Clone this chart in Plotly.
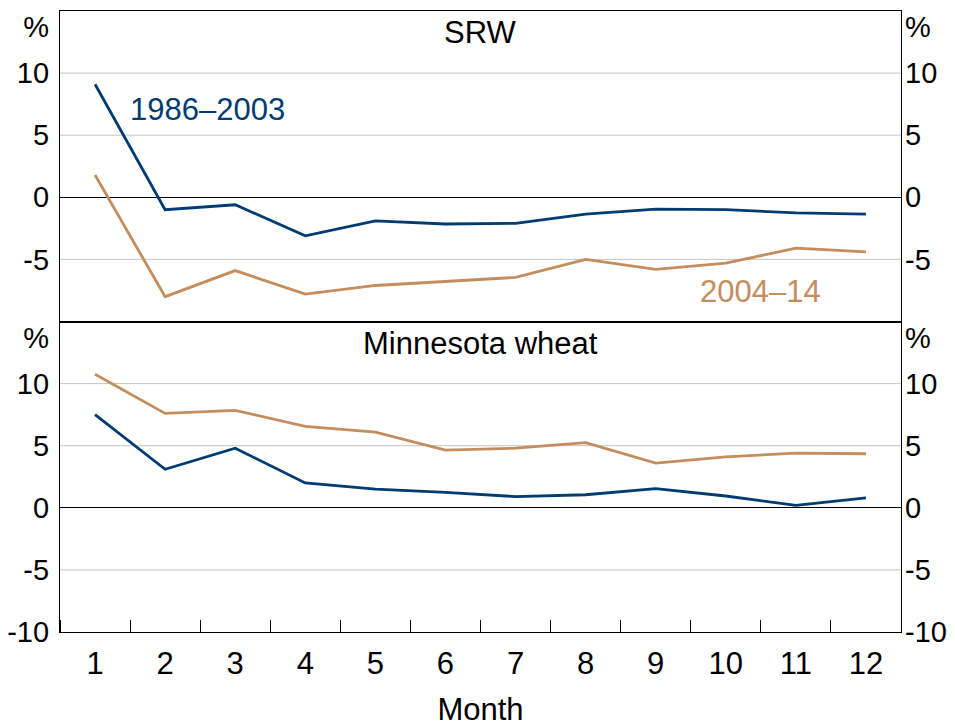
import plotly.graph_objects as go
from plotly.subplots import make_subplots

months = list(range(1, 13))

# SRW
srw_early = [9.1, -1.0, -0.6, -3.1, -1.9, -2.15, -2.1, -1.35, -0.95, -1.0, -1.25, -1.35]
srw_late = [1.8, -8.0, -5.9, -7.8, -7.1, -6.8, -6.45, -5.0, -5.8, -5.3, -4.1, -4.4]

# Minnesota wheat
mn_early = [7.5, 3.1, 4.8, 2.0, 1.5, 1.25, 0.9, 1.05, 1.55, 0.95, 0.2, 0.8]
mn_late = [10.75, 7.6, 7.85, 6.55, 6.1, 4.65, 4.8, 5.25, 3.6, 4.1, 4.4, 4.35]

# the "%" unit label sits just under the top of each panel
y_vals = [-10, -5, 0, 5, 10, 13.7]
y_text = ['-10', '-5', '0', '5', '10', '%']

BLUE = '#003b72'
TAN = '#c48d5d'
FONT = 'Liberation Sans, Arial, sans-serif'
FS = 31
TICK_FS = 29

fig = make_subplots(rows=2, cols=1, shared_xaxes=True, vertical_spacing=0,
                    specs=[[{'secondary_y': True}], [{'secondary_y': True}]])

for row, early, late in [(1, srw_early, srw_late), (2, mn_early, mn_late)]:
    fig.add_trace(go.Scatter(x=months, y=late, mode='lines', line=dict(color=TAN, width=2.8),
                             showlegend=False), row=row, col=1)
    fig.add_trace(go.Scatter(x=months, y=early, mode='lines', line=dict(color=BLUE, width=2.8),
                             showlegend=False), row=row, col=1)
    # copy on the right-hand axis so it gets drawn
    fig.add_trace(go.Scatter(x=months, y=early, mode='lines', opacity=0, hoverinfo='skip',
                             showlegend=False), row=row, col=1, secondary_y=True)

axis_font = dict(family=FONT, size=TICK_FS, color='black')

for row in [1, 2]:
    tv = y_vals if row == 2 else y_vals[1:]
    tt = y_text if row == 2 else y_text[1:]
    fig.update_yaxes(range=[-10, 15], tickmode='array', tickvals=tv, ticktext=tt,
                     showgrid=False, zeroline=True, zerolinecolor='black', zerolinewidth=1.3,
                     showline=True, linecolor='black', linewidth=1.2, mirror=True,
                     ticks='', ticklabelstandoff=4, automargin=False,
                     tickfont=axis_font, row=row, col=1, secondary_y=False)
    fig.update_yaxes(range=[-10, 15], tickmode='array', tickvals=tv, ticktext=tt,
                     showgrid=False, zeroline=False, showline=False,
                     ticks='', ticklabelstandoff=3, automargin=False,
                     tickfont=axis_font, row=row, col=1, secondary_y=True)

# grid lines at the numeric ticks only
for g in [-5, 5, 10]:
    for row in [1, 2]:
        fig.add_hline(y=g, line_color='#c4c4c4', line_width=1, layer='below', row=row, col=1)

fig.update_xaxes(range=[0.5, 12.5], domain=[0, 1], showline=True, linecolor='black',
                 linewidth=1.2, mirror=True, showgrid=False, zeroline=False, ticks='',
                 automargin=False)
fig.update_xaxes(showticklabels=False, row=1, col=1)
fig.update_xaxes(tickmode='array', tickvals=months, tickfont=dict(axis_font, size=FS),
                 ticklabelstandoff=4,
                 minor=dict(ticks='inside', ticklen=12, tickwidth=1.2, tickcolor='black',
                            tick0=0.5, dtick=1, showgrid=False),
                 title=dict(text='Month', font=dict(axis_font, size=FS), standoff=25),
                 row=2, col=1)

fig.add_annotation(text='SRW', x=0.5, y=1.0, xref='paper', yref='paper', yanchor='top',
                   yshift=-2, showarrow=False, font=dict(family=FONT, size=FS, color='black'))
fig.add_annotation(text='Minnesota wheat', x=0.5, y=0.5, xref='paper', yref='paper',
                   yanchor='top', yshift=-2, showarrow=False,
                   font=dict(family=FONT, size=FS, color='black'))
fig.add_annotation(text='1986–2003', x=2.6, y=7.1, xref='x', yref='y', showarrow=False,
                   font=dict(family=FONT, size=FS, color=BLUE))
fig.add_annotation(text='2004–14', x=10.5, y=-7.6, xref='x', yref='y', showarrow=False,
                   font=dict(family=FONT, size=FS, color=TAN))

# page body adds an 8px margin, so the figure is 8px smaller and margins are shifted
fig.update_layout(width=947, height=719, margin=dict(l=52, r=54, t=3, b=95),
                  plot_bgcolor='white', paper_bgcolor='white',
                  font=dict(family=FONT, size=FS, color='black'))

fig.write_html('out.html')
